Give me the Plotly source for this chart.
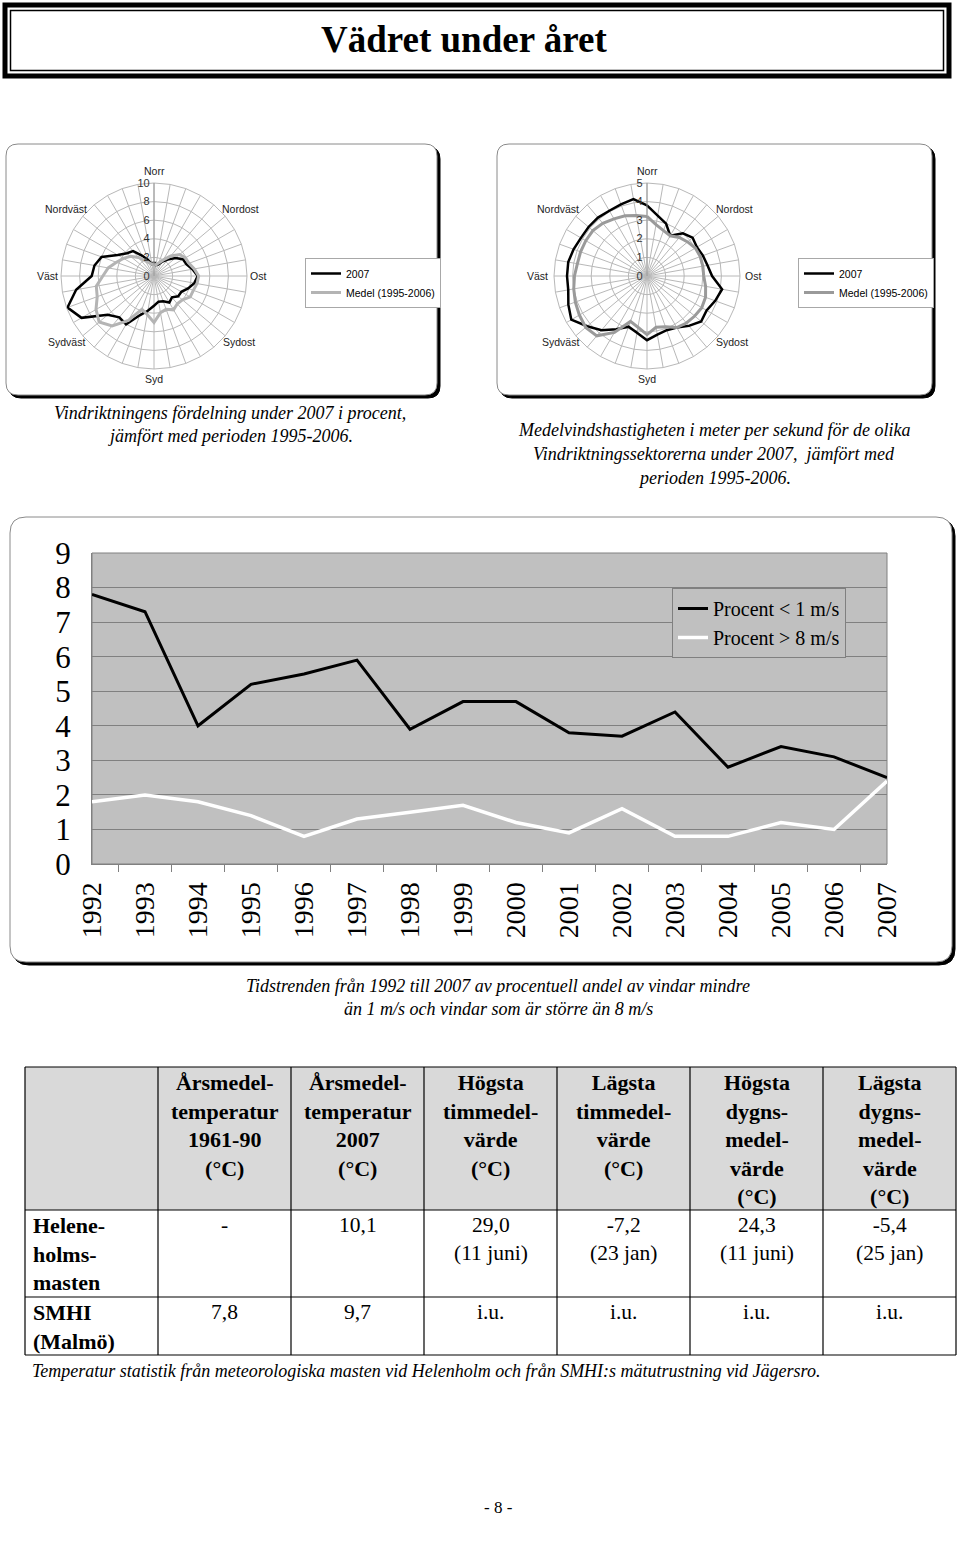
import plotly.graph_objects as go

W, H = 960, 1543

# ---------------- data ----------------
directions = [str(d) for d in range(0, 360, 10)]  # 36 sectors, 0 = Norr, clockwise

freq_2007 = [1.5, 1.2, 1.3, 1.8, 2.3, 3.0, 3.6, 3.7, 4.2, 4.7, 4.4, 3.9,
             3.4, 3.4, 3.0, 3.3, 2.9, 2.8, 3.2, 3.8, 4.5, 6.0, 5.8, 6.5,
             9.0, 9.9, 8.5, 6.7, 6.5, 6.0, 4.5, 3.8, 3.5, 2.5, 1.8, 1.3]
freq_medel = [1.3, 1.2, 1.5, 2.0, 2.8, 3.6, 3.9, 4.0, 4.4, 4.8, 4.7, 4.5,
              4.5, 4.0, 3.9, 4.2, 3.8, 4.0, 5.0, 4.2, 3.8, 5.5, 7.0, 7.7,
              7.2, 6.5, 6.3, 5.5, 5.0, 4.3, 3.8, 3.3, 2.6, 1.9, 1.5, 1.3]

speed_2007 = [3.8, 3.3, 3.0, 2.5, 3.0, 3.2, 3.1, 3.2, 3.3, 3.5, 4.1, 3.9,
              3.7, 3.8, 3.5, 3.2, 3.1, 3.2, 3.45, 3.1, 2.9, 3.3, 3.8, 4.2,
              4.7, 4.5, 4.3, 4.3, 4.3, 4.2, 4.1, 4.1, 4.1, 4.05, 4.1, 4.2]
speed_medel = [3.2, 2.8, 2.6, 2.5, 2.7, 2.85, 3.0, 3.05, 3.05, 3.05, 3.2, 3.35,
               3.4, 3.35, 3.3, 3.2, 2.9, 2.8, 3.15, 2.8, 2.6, 3.5, 4.2, 4.3,
               4.2, 4.1, 4.0, 3.9, 3.8, 3.8, 3.8, 3.8, 3.7, 3.55, 3.45, 3.3]

years = [str(y) for y in range(1992, 2008)]
calm_pct = [7.8, 7.3, 4.0, 5.2, 5.5, 5.9, 3.9, 4.7, 4.7, 3.8, 3.7, 4.4, 2.8, 3.4, 3.1, 2.5]
strong_pct = [1.8, 2.0, 1.8, 1.4, 0.8, 1.3, 1.5, 1.7, 1.2, 0.9, 1.6, 0.8, 0.8, 1.2, 1.0, 2.4]

table_header = ["",
                "Årsmedel-<br>temperatur<br>1961-90<br>(°C)",
                "Årsmedel-<br>temperatur<br>2007<br>(°C)",
                "Högsta<br>timmedel-<br>värde<br>(°C)",
                "Lägsta<br>timmedel-<br>värde<br>(°C)",
                "Högsta<br>dygns-<br>medel-<br>värde<br>(°C)",
                "Lägsta<br>dygns-<br>medel-<br>värde<br>(°C)"]
stations = ["Helene-<br>holms-<br>masten", "SMHI<br>(Malmö)"]
temp_1961_90 = ["-", "7,8"]
temp_2007 = ["10,1", "9,7"]
max_hour = ["29,0<br>(11 juni)", "i.u."]
min_hour = ["-7,2<br>(23 jan)", "i.u."]
max_day = ["24,3<br>(11 juni)", "i.u."]
min_day = ["-5,4<br>(25 jan)", "i.u."]

compass = ["Norr", "Nordost", "Ost", "Sydost", "Syd", "Sydväst", "Väst", "Nordväst"]

# ---------------- helpers ----------------
def px(x):
    return x / W


def py(y):
    return 1 - y / H


def rrect(x0, y0, x1, y1, r):
    X, Y = px, py
    return (f"M {X(x0 + r)},{Y(y0)} L {X(x1 - r)},{Y(y0)} Q {X(x1)},{Y(y0)} {X(x1)},{Y(y0 + r)} "
            f"L {X(x1)},{Y(y1 - r)} Q {X(x1)},{Y(y1)} {X(x1 - r)},{Y(y1)} "
            f"L {X(x0 + r)},{Y(y1)} Q {X(x0)},{Y(y1)} {X(x0)},{Y(y1 - r)} "
            f"L {X(x0)},{Y(y0 + r)} Q {X(x0)},{Y(y0)} {X(x0 + r)},{Y(y0)} Z")


def closed(v):
    return list(v) + [v[0]]


SERIF = "Liberation Serif"
SANS = "Liberation Sans"

fig = go.Figure()

# ---------------- radar charts ----------------
fig.add_trace(go.Scatterpolar(r=closed(freq_2007), theta=closed(directions), mode="lines",
                              line=dict(color="black", width=2.5), name="2007",
                              subplot="polar", legend="legend"))
fig.add_trace(go.Scatterpolar(r=closed(freq_medel), theta=closed(directions), mode="lines",
                              line=dict(color="#b4b4b4", width=3), name="Medel (1995-2006)",
                              subplot="polar", legend="legend"))
fig.add_trace(go.Scatterpolar(r=closed(speed_2007), theta=closed(directions), mode="lines",
                              line=dict(color="black", width=2.5), name="2007",
                              subplot="polar2", legend="legend2"))
fig.add_trace(go.Scatterpolar(r=closed(speed_medel), theta=closed(directions), mode="lines",
                              line=dict(color="#9a9a9a", width=3), name="Medel (1995-2006)",
                              subplot="polar2", legend="legend2"))

# ---------------- line chart ----------------
fig.add_trace(go.Scatter(x=years, y=calm_pct, mode="lines", name="Procent < 1 m/s",
                         line=dict(color="black", width=3), xaxis="x", yaxis="y", legend="legend3"))
fig.add_trace(go.Scatter(x=years, y=strong_pct, mode="lines", name="Procent > 8 m/s",
                         line=dict(color="white", width=3.5), xaxis="x", yaxis="y", legend="legend3"))


def polar_layout(cx, cy, rad, rmax, dtick):
    return dict(
        domain=dict(x=[px(cx - rad), px(cx + rad)], y=[py(cy + rad), py(cy - rad)]),
        bgcolor="rgba(0,0,0,0)",
        gridshape="linear",
        angularaxis=dict(type="category", categoryarray=directions, rotation=90,
                         direction="clockwise", showticklabels=False, ticks="",
                         gridcolor="#b8b8b8", gridwidth=1, showline=True,
                         linecolor="#b8b8b8", linewidth=1),
        radialaxis=dict(range=[0, rmax], dtick=dtick, angle=90, tickangle=90,
                        showline=True, linecolor="#9a9a9a", ticks="",
                        side="counterclockwise",
                        gridcolor="#b8b8b8", gridwidth=1,
                        tickfont=dict(family=SANS, size=11, color="#333333")),
    )


# ---------------- decorations ----------------
shapes = []
# title box
shapes.append(dict(type="rect", xref="paper", yref="paper", x0=px(5), x1=px(949),
                   y0=py(76), y1=py(5), line=dict(color="black", width=5), layer="below"))
shapes.append(dict(type="rect", xref="paper", yref="paper", x0=px(10.5), x1=px(943.5),
                   y0=py(70.5), y1=py(10.5), line=dict(color="black", width=1.5), layer="below"))
# rounded boxes with shadows
for (x0, y0, x1, y1, r) in [(6, 144, 437, 395, 12), (497, 144, 932, 395, 12),
                            (10, 517, 952, 962, 16)]:
    shapes.append(dict(type="path", xref="paper", yref="paper", path=rrect(x0 + 3, y0 + 3, x1 + 3, y1 + 3, r),
                       fillcolor="black", line=dict(color="black", width=1), layer="below"))
    shapes.append(dict(type="path", xref="paper", yref="paper", path=rrect(x0, y0, x1, y1, r),
                       fillcolor="white", line=dict(color="#8a8a8a", width=1), layer="below"))
# gray plot area
shapes.append(dict(type="rect", xref="x domain", yref="y domain", x0=0, x1=1, y0=0, y1=1,
                   fillcolor="#c0c0c0", line=dict(color="#808080", width=1), layer="below"))

annotations = []


def ann(text, x, y, size, family=SERIF, color="black", xanchor="center", yanchor="middle", align="center"):
    annotations.append(dict(text=text, x=px(x), y=py(y), xref="paper", yref="paper",
                            showarrow=False, xanchor=xanchor, yanchor=yanchor, align=align,
                            font=dict(family=family, size=size, color=color)))


# ---------------- table (grid from shapes, text from the data lists) ----------------
col_edges = [25, 158, 291, 424, 557, 690, 823, 956]
row_edges = [1067, 1210, 1297, 1355]
shapes.append(dict(type="rect", xref="paper", yref="paper", x0=px(col_edges[0]), x1=px(col_edges[-1]),
                   y0=py(row_edges[1]), y1=py(row_edges[0]), fillcolor="#d9d9d9",
                   line=dict(width=0), layer="below"))
for yv in row_edges:
    shapes.append(dict(type="line", xref="paper", yref="paper", x0=px(col_edges[0]), x1=px(col_edges[-1]),
                       y0=py(yv), y1=py(yv), line=dict(color="black", width=1.2)))
for xv in col_edges:
    shapes.append(dict(type="line", xref="paper", yref="paper", x0=px(xv), x1=px(xv),
                       y0=py(row_edges[0]), y1=py(row_edges[-1]), line=dict(color="black", width=1.2)))

columns = [stations, temp_1961_90, temp_2007, max_hour, min_hour, max_day, min_day]
for ci, head in enumerate(table_header):
    cxm = (col_edges[ci] + col_edges[ci + 1]) / 2
    if head:
        ann(f"<b>{head}</b>", cxm, row_edges[0] + 1, 22, yanchor="top")
    for ri, val in enumerate(columns[ci]):
        ytop = row_edges[ri + 1] + 1
        if ci == 0:
            ann(f"<b>{val}</b>", col_edges[0] + 6, ytop, 22, xanchor="left", yanchor="top", align="left")
        else:
            ann(val, cxm, ytop, 21.5, yanchor="top")

ann("<b>Vädret under året</b>", 464, 40, 37)

# compass labels
left_pos = [(154, 171), (240, 209), (258, 276), (239, 342), (154, 379), (66, 342), (47, 276), (66, 209)]
right_pos = [(647, 171), (734, 209), (753, 276), (732, 342), (647, 379), (560, 342), (537, 276), (558, 209)]
for name, (x, y) in zip(compass, left_pos):
    ann(name, x, y, 10.5, SANS, "#222222")
for name, (x, y) in zip(compass, right_pos):
    ann(name, x, y, 10.5, SANS, "#222222")

# captions
ann("<i>Vindriktningens fördelning under 2007 i procent,</i>", 230, 413, 18)
ann("<i>jämfört med perioden 1995-2006.</i>", 230, 436, 18)
ann("<i>Medelvindshastigheten i meter per sekund för de olika</i>", 714, 430, 18)
ann("<i>Vindriktningssektorerna under 2007,  jämfört med</i>", 714, 454, 18)
ann("<i>perioden 1995-2006.</i>", 714, 478, 18)
ann("<i>Tidstrenden från 1992 till 2007 av procentuell andel av vindar mindre</i>", 498, 986, 18)
ann("<i>än 1 m/s och vindar som är större än 8 m/s</i>", 498, 1009, 18)
ann("<i>Temperatur statistik från meteorologiska masten vid Helenholm och från SMHI:s mätutrustning vid Jägersro.</i>",
    30, 1371, 18, xanchor="left")
ann("- 8 -", 498, 1507, 17)

legend_radar = dict(xanchor="left", yanchor="top", bgcolor="white", bordercolor="#a8a8a8",
                    borderwidth=1, font=dict(family=SANS, size=10.5, color="black"),
                    tracegroupgap=0, itemwidth=30)

fig.update_layout(
    template="none",
    width=W, height=H,
    margin=dict(l=0, r=0, t=0, b=0, pad=0),
    paper_bgcolor="white",
    plot_bgcolor="rgba(0,0,0,0)",
    polar=polar_layout(154, 276, 93, 10, 2),
    polar2=polar_layout(647, 276, 93, 5, 1),
    xaxis=dict(domain=[px(92), px(887)], anchor="y", type="category", tickangle=-90,
               tickfont=dict(family=SERIF, size=28, color="black"), showgrid=False,
               ticks="outside", tickson="boundaries", ticklen=7, tickcolor="#808080",
               showline=True, linecolor="#808080", linewidth=1, zeroline=False,
               ticklabelstandoff=6, automargin=False),
    yaxis=dict(domain=[py(864), py(553)], anchor="x", range=[0, 9], dtick=1,
               showgrid=True, gridcolor="#808080", gridwidth=1, zeroline=False,
               tickfont=dict(family=SERIF, size=31, color="black"),
               showline=True, linecolor="#808080", ticks="", ticklabelstandoff=14,
               automargin=False),
    legend=dict(x=px(305), y=py(258), **legend_radar),
    legend2=dict(x=px(798), y=py(258), **legend_radar),
    legend3=dict(x=px(672), y=py(588), xanchor="left", yanchor="top", bgcolor="#c0c0c0",
                 bordercolor="#808080", borderwidth=1, tracegroupgap=0,
                 font=dict(family=SERIF, size=20, color="black")),
    showlegend=True,
    shapes=shapes,
    annotations=annotations,
)

# the page body would otherwise add an 8 px margin around the figure
fig.write_html("out.html", config={"displayModeBar": False},
               post_script="document.body.style.margin='0px';")
